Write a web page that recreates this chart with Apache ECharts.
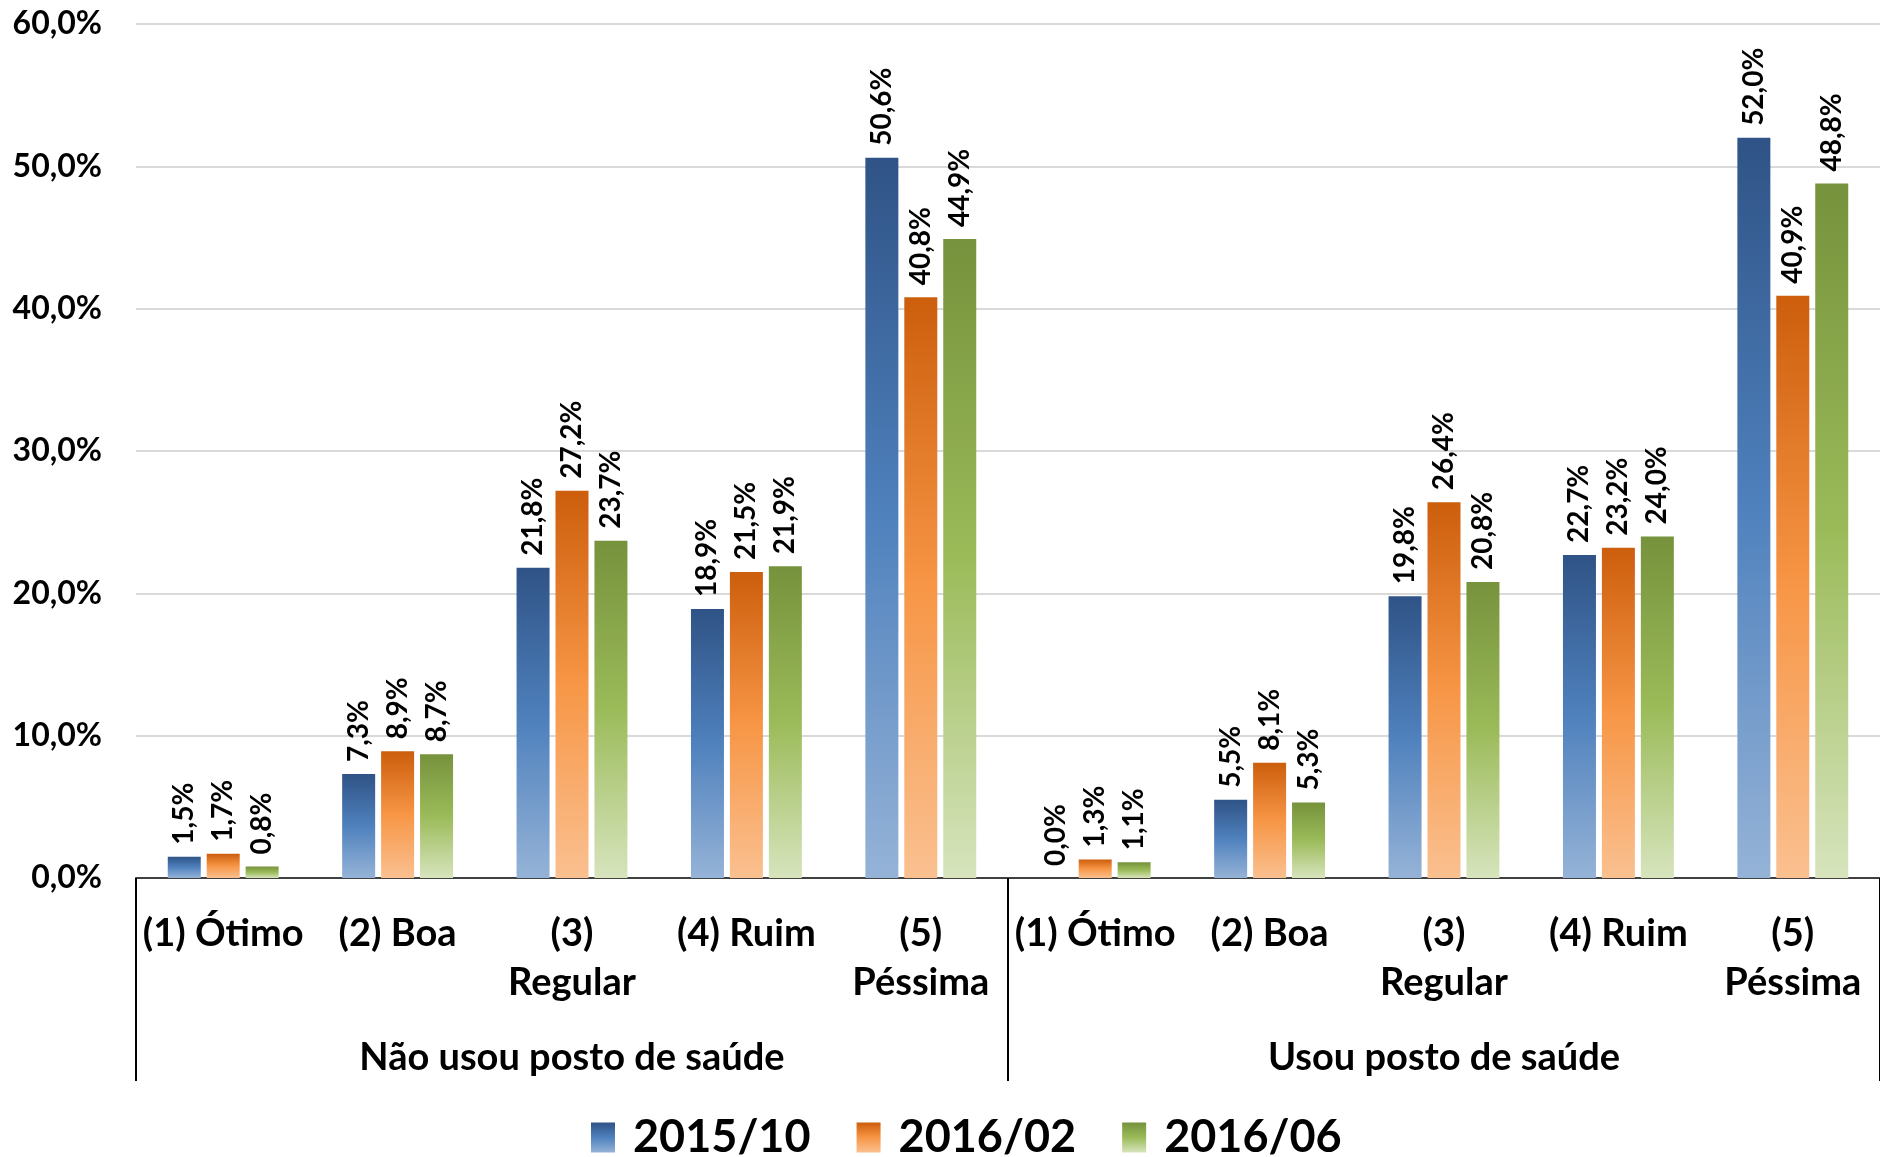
<!DOCTYPE html>
<html>
<head>
<meta charset="utf-8">
<script src="https://cdn.jsdelivr.net/npm/echarts@6/dist/echarts.min.js"></script>
<style>
html,body{margin:0;padding:0;background:#fff;}
#chart{width:1880px;height:1157px;}
</style>
</head>
<body>
<div id="chart"></div>
<script>
const ratingLabels = ['(1) Ótimo', '(2) Boa', '(3)\nRegular', '(4) Ruim', '(5)\nPéssima'];
const groupLabels = ['Não usou posto de saúde', 'Usou posto de saúde'];
const categories = ratingLabels.concat(ratingLabels);
const seriesNames = ['2015/10', '2016/02', '2016/06'];
const values2015_10 = [1.5, 7.3, 21.8, 18.9, 50.6, 0.0, 5.5, 19.8, 22.7, 52.0];
const values2016_02 = [1.7, 8.9, 27.2, 21.5, 40.8, 1.3, 8.1, 26.4, 23.2, 40.9];
const values2016_06 = [0.8, 8.7, 23.7, 21.9, 44.9, 1.1, 5.3, 20.8, 24.0, 48.8];
const yTicks = [0, 10, 20, 30, 40, 50, 60];

const FONT = 'Lato';
function grad(top, mid, bottom) {
  return new echarts.graphic.LinearGradient(0, 0, 0, 1, [
    {offset: 0, color: top},
    {offset: 0.5, color: mid},
    {offset: 1, color: bottom}
  ]);
}
const colors = [
  grad('#2F5386', '#4F81BD', '#95B3D7'),
  grad('#CC5E0C', '#F79646', '#FAC090'),
  grad('#76923C', '#9BBB59', '#D7E4BD')
];
const allValues = [values2015_10, values2016_02, values2016_06];
const fmt = v => v.toFixed(1).replace('.', ',') + '%';

const chart = echarts.init(document.getElementById('chart'), null, {renderer: 'canvas'});
chart.setOption({
  backgroundColor: '#fff',
  animation: false,
  textStyle: {fontFamily: FONT},
  grid: {left: 136, right: 0, top: 24, bottom: 279, containLabel: false},
  legend: {
    data: seriesNames,
    left: 586,
    top: 1110,
    icon: 'rect',
    itemWidth: 24,
    itemHeight: 30,
    itemGap: 46,
    textStyle: {fontFamily: FONT, fontSize: 45, fontWeight: 'bold', color: '#000', padding: [0, 0, 0, 13]}
  },
  xAxis: [
    {
      type: 'category',
      data: categories,
      axisLine: {show: true, lineStyle: {color: '#404040', width: 2}},
      axisTick: {show: false},
      axisLabel: {interval: 0, fontFamily: FONT, fontSize: 38, fontWeight: 'bold', lineHeight: 49, margin: 31, color: '#000'}
    },
    {
      type: 'category',
      data: groupLabels,
      position: 'bottom',
      axisLine: {show: false},
      axisTick: {show: true, interval: 0, length: 203, lineStyle: {color: '#000', width: 2}},
      axisLabel: {interval: 0, fontFamily: FONT, fontSize: 38, fontWeight: 'bold', margin: 161, color: '#000'}
    }
  ],
  yAxis: {
    type: 'value',
    min: 0,
    max: 60,
    interval: 10,
    axisLine: {show: false},
    axisTick: {show: false},
    splitLine: {lineStyle: {color: '#D9D9D9', width: 2}},
    axisLabel: {fontFamily: FONT, fontSize: 32, fontWeight: 'bold', color: '#000', margin: 34,
      formatter: v => v.toFixed(1).replace('.', ',') + '%'}
  },
  series: seriesNames.map((name, i) => ({
    name: name,
    type: 'bar',
    xAxisIndex: 0,
    data: allValues[i],
    barWidth: 33,
    barGap: '18%',
    itemStyle: {color: colors[i]},
    label: {
      show: true,
      position: 'top',
      rotate: 90,
      align: 'left',
      verticalAlign: 'middle',
      distance: 12,
      fontFamily: FONT,
      fontSize: 28,
      fontWeight: 'bold',
      color: '#000',
      formatter: p => fmt(p.value)
    }
  }))
});
</script>
</body>
</html>
